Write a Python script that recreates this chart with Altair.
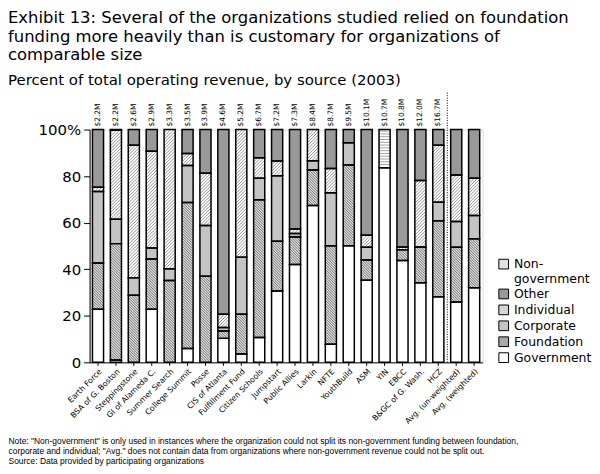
import altair as alt
import pandas as pd

orgs = ["Earth Force", "BSA of G. Boston", "Steppingstone", "GI of Alameda C.", "Summer Search",
        "College Summit", "Posse", "CIS of Atlanta", "Fulfillment Fund", "Citizen Schools",
        "Jumpstart", "Public Allies", "Larkin", "NFTE", "YouthBuild", "ASM", "YIN", "EBCC",
        "B&GC of G. Wash.", "HCZ", "Avg. (un-weighted)", "Avg. (weighted)"]
budget = ["$2.2M", "$2.2M", "$2.6M", "$2.9M", "$3.3M", "$3.5M", "$3.9M", "$4.6M", "$5.2M", "$6.7M",
          "$7.2M", "$7.3M", "$8.4M", "$8.7M", "$9.5M", "$10.1M", "$10.7M", "$10.8M", "$12.0M", "$16.7M",
          "", ""]
government = [22.8, 1.0, 0, 22.8, 0, 6.0, 0, 10.3, 3.6, 10.7, 30.6, 42.0, 67.4, 7.8, 50.1, 35.3,
              83.6, 43.7, 34.2, 28.2, 25.9, 32.0]
foundation = [19.9, 50.0, 28.8, 21.6, 35.2, 62.7, 37.0, 3.2, 17.1, 59.1, 21.4, 11.8, 15.2, 42.3, 34.7, 8.7,
              0, 4.7, 15.4, 32.6, 23.5, 21.1]
corporate = [30.7, 10.5, 7.5, 4.7, 5.0, 15.9, 21.8, 1.5, 24.5, 9.3, 28.2, 1.5, 4.0, 22.8, 9.5, 5.4,
             0, 0, 0, 8.0, 11.1, 10.0]
individual = [1.8, 38.2, 57.0, 41.6, 59.8, 5.1, 22.4, 5.7, 54.8, 8.8, 6.3, 2.0, 13.4, 10.4, 0, 5.2,
              0, 1.2, 28.5, 24.5, 20.0, 16.0]
other = [24.8, 0.3, 6.7, 9.3, 0, 10.3, 18.8, 79.3, 0, 12.1, 13.5, 42.7, 0, 16.7, 5.7, 45.4,
         0, 50.4, 21.9, 6.7, 19.5, 20.9]
non_government = [0, 0, 0, 0, 0, 0, 0, 0, 0, 0, 0, 0, 0, 0, 0, 0,
                  16.4, 0, 0, 0, 0, 0]
divider_org = ["Avg. (un-weighted)"]
divider_top = [116]

sources = ["Government", "Foundation", "Corporate", "Individual", "Other", "Non-government"]
series = [government, foundation, corporate, individual, other, non_government]
legend_order = ["Non-government", "Other", "Individual", "Corporate", "Foundation", "Government"]

rows = []
for i, org in enumerate(orgs):
    for rank, (src, vals) in enumerate(zip(sources, series)):
        if vals[i] > 0:
            rows.append({"org": org, "idx": i, "source": src, "value": vals[i], "rank": rank})
df = pd.DataFrame(rows)
labels_df = pd.DataFrame({"org": orgs, "budget": budget, "top": [100] * len(orgs)})
labels_df = labels_df[labels_df["budget"] != ""]
div_df = pd.DataFrame({"org": divider_org, "lo": [0], "hi": divider_top})

# layout constants
W, H = 395, 234
n = len(orgs)
PI, PO = 0.38, 0.16
step = W / (n - PI + 2 * PO)
bw = step * (1 - PI)
K = H / 100.0
dmin = -(PO + (1 - PI) / 2)
dmax = n - 0.5 - PI / 2 + PO

FONT = "DejaVu Sans"

xscale = alt.Scale(domain=orgs, paddingInner=PI, paddingOuter=PO, round=False)
xaxis = alt.Axis(
    labelAngle=-45, labelFontSize=7.8, labelFont=FONT, labelColor="black",
    tickSize=3, tickColor="black", domainColor="black", labelPadding=2,
    title=["Note: \"Non-government\" is only used in instances where the organization could not split its non-government funding between foundation,",
           "corporate and individual; \"Avg.\" does not contain data from organizations where non-government revenue could not be split out.",
           "Source: Data provided by participating organizations"],
    titleFont="Liberation Sans", titleFontSize=8.5, titleFontWeight="normal", titleColor="black",
    titleAnchor="start", titleAlign="left", titleBaseline="top", titleX=-82, titleY=75, titleLineHeight=9.6,
)
X = alt.X("org:N", sort=orgs, scale=xscale, axis=xaxis)
Xn = alt.X("org:N", sort=orgs, scale=xscale, axis=None)
yscale = alt.Scale(domain=[0, 100], nice=False, zero=True)
yaxis = alt.Axis(values=[0, 20, 40, 60, 80, 100], labelExpr="datum.value == 100 ? '100%' : datum.label",
                 labelFontSize=15, labelFont=FONT, labelColor="black", tickSize=6, tickColor="black",
                 domainColor="black", grid=False, title=None, labelPadding=3)


def Y(field):
    return alt.Y(field, scale=yscale, axis=yaxis, title=None)


stacked = alt.Chart(df).transform_stack(
    stack="value", groupby=["org"], as_=["y0", "y1"], sort=[alt.SortField("rank", order="ascending")]
)

legend_tone = {"Non-government": "#e2e2e2", "Other": "#999999", "Individual": "#d6d6d6",
               "Corporate": "#c4c4c4", "Foundation": "#a8a8a8", "Government": "#ffffff"}
base_fill = {"Non-government": "#ffffff", "Other": "#999999", "Individual": "#ffffff",
             "Corporate": "#c4c4c4", "Foundation": "#dcdcdc", "Government": "#ffffff"}

legend_layer = stacked.transform_calculate(zero="0").mark_bar(strokeWidth=0).encode(
    x=X, y=Y("zero:Q"), y2="zero:Q",
    color=alt.Color("source:N", scale=alt.Scale(domain=legend_order, range=[legend_tone[s] for s in legend_order]),
                    legend=alt.Legend(orient="none", legendX=410, legendY=129, title=None,
                                      symbolType="square", symbolSize=95, symbolStrokeColor="black",
                                      symbolStrokeWidth=1, labelFontSize=12.5, labelFont=FONT,
                                      labelColor="black", rowPadding=1, symbolOpacity=1,
                                      labelExpr="datum.label == 'Non-government' ? ['Non-', 'government'] : datum.label")),
)

fill_layer = stacked.mark_bar(strokeWidth=0).encode(
    x=X, y=Y("y0:Q"), y2="y1:Q",
    fill=alt.Fill("source:N", scale=alt.Scale(domain=legend_order, range=[base_fill[s] for s in legend_order]),
                  legend=None),
)

hatch_layer = stacked.transform_filter(
    alt.FieldOneOfPredicate(field="source", oneOf=["Foundation", "Individual", "Non-government"])
).transform_calculate(
    Y0=f"datum.y0*{K}"
).transform_calculate(
    Y1=f"datum.y1*{K}"
).transform_calculate(
    sp="datum.source=='Foundation' ? 2.6 : (datum.source=='Individual' ? 3.2 : 2.8)"
).transform_calculate(
    lo=f"datum.source=='Individual' ? datum.Y0-{bw} : datum.Y0"
).transform_calculate(
    hi=f"datum.source=='Foundation' ? datum.Y1+{bw} : datum.Y1"
).transform_calculate(
    ms="sequence(ceil(datum.lo/datum.sp), floor(datum.hi/datum.sp)+1)"
).transform_flatten(["ms"], as_=["m"]).transform_calculate(
    c="datum.m*datum.sp"
).transform_calculate(
    Xa="datum.source=='Individual' ? max(0, datum.Y0-datum.c) : (datum.source=='Foundation' ? max(0, datum.c-datum.Y1) : 0)"
).transform_calculate(
    Xb=f"datum.source=='Individual' ? min({bw}, datum.Y1-datum.c) : (datum.source=='Foundation' ? min({bw}, datum.c-datum.Y0) : {bw})"
).transform_filter(
    "datum.Xb - datum.Xa > 0.2 && (datum.source != 'Non-government' || (datum.c > datum.Y0 + 0.8 && datum.c < datum.Y1 - 0.8))"
).transform_calculate(
    xa=f"datum.idx + (datum.Xa - {bw / 2})/{step}"
).transform_calculate(
    xb=f"datum.idx + (datum.Xb - {bw / 2})/{step}"
).transform_calculate(
    ya=f"(datum.source=='Individual' ? datum.Xa + datum.c : (datum.source=='Foundation' ? datum.c - datum.Xa : datum.c))/{K}"
).transform_calculate(
    yb=f"(datum.source=='Individual' ? datum.Xb + datum.c : (datum.source=='Foundation' ? datum.c - datum.Xb : datum.c))/{K}"
).mark_rule(strokeWidth=0.8).encode(
    x=alt.X("xa:Q", scale=alt.Scale(domain=[dmin, dmax], nice=False, zero=False), axis=None),
    x2="xb:Q",
    y=Y("ya:Q"), y2="yb:Q",
    stroke=alt.Stroke("source:N", scale=alt.Scale(domain=["Foundation", "Individual", "Non-government"],
                                                  range=["#5e5e5e", "#7a7a7a", "#8a8a8a"]), legend=None),
)

outline_layer = stacked.mark_bar(fill="transparent", stroke="black", strokeWidth=1.5).encode(
    x=Xn, y=Y("y0:Q"), y2="y1:Q",
)

label_layer = alt.Chart(labels_df).mark_text(
    angle=270, align="left", baseline="middle", dx=3, fontSize=7.5, font=FONT, color="black"
).encode(x=Xn, y=Y("top:Q"), text="budget:N")

divider_layer = alt.Chart(div_df).mark_rule(
    color="black", strokeDash=[1, 1.5], strokeWidth=1, xOffset=-step * PI / 2
).encode(
    x=alt.X("org:N", sort=orgs, scale=xscale, axis=None, bandPosition=0),
    y=Y("lo:Q"), y2="hi:Q",
)

base_layers = alt.layer(legend_layer, fill_layer)
top_layers = alt.layer(outline_layer, label_layer, divider_layer)

chart = alt.layer(
    base_layers, hatch_layer, top_layers
).resolve_scale(x="independent").properties(
    width=W, height=H,
    padding={"left": 0, "top": 0, "right": 0, "bottom": 0},
    title=alt.TitleParams(
        text=["Exhibit 13: Several of the organizations studied relied on foundation",
              "funding more heavily than is customary for organizations of",
              "comparable size"],
        subtitle="Percent of total operating revenue, by source (2003)",
        anchor="start", frame="group", dx=-82, fontSize=16.5, font=FONT, fontWeight="normal",
        color="black", lineHeight=19, subtitleFont=FONT, subtitleFontSize=15, subtitleColor="black",
        subtitlePadding=9, offset=4,
    ),
).configure_view(stroke=None).configure(font=FONT)

chart.save("out.html", embed_options={"renderer": "svg", "actions": False})
